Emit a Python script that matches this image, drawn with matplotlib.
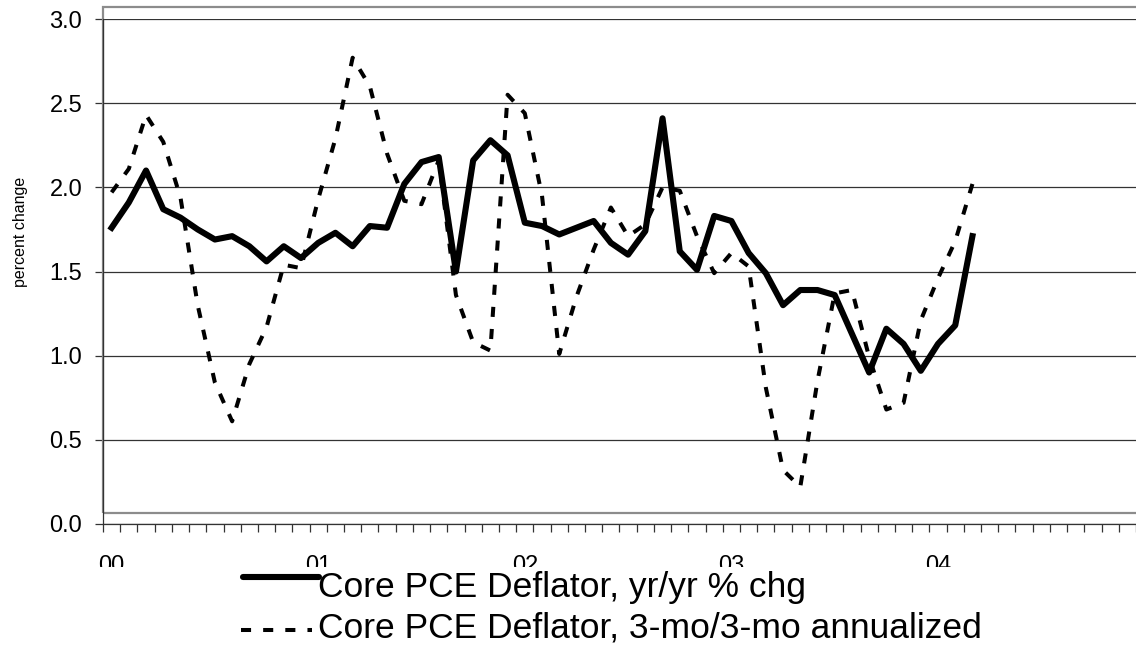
import numpy as np
import matplotlib
matplotlib.use("Agg")
import matplotlib.pyplot as plt
from matplotlib.patches import Rectangle
from matplotlib.lines import Line2D

plt.rcParams['font.family'] = ['Liberation Sans', 'DejaVu Sans']

# ---- data: monthly, Jan 2000 .. Mar 2004 ----
year_labels = ['00', '01', '02', '03', '04']
yoy_label = 'Core PCE Deflator, yr/yr % chg'
ann_label = 'Core PCE Deflator, 3-mo/3-mo annualized'

core_yoy = [1.76, 1.91, 2.10, 1.87, 1.82, 1.75, 1.69, 1.71, 1.65, 1.56,
            1.65, 1.58, 1.67, 1.73, 1.65, 1.77, 1.76, 2.02, 2.15, 2.18,
            1.50, 2.16, 2.28, 2.19, 1.79, 1.77, 1.72, 1.76, 1.80, 1.67,
            1.60, 1.74, 2.41, 1.62, 1.51, 1.83, 1.80, 1.61, 1.49, 1.30,
            1.39, 1.39, 1.36, 1.13, 0.90, 1.16, 1.07, 0.91, 1.07, 1.18,
            1.71]

core_3m = [1.97, 2.11, 2.43, 2.27, 1.94, 1.30, 0.84, 0.61, 0.95, 1.17,
           1.54, 1.52, 1.93, 2.29, 2.77, 2.60, 2.20, 1.92, 1.90, 2.16,
           1.36, 1.08, 1.03, 2.55, 2.44, 1.95, 1.01, 1.35, 1.63, 1.88,
           1.71, 1.78, 2.00, 1.98, 1.71, 1.49, 1.61, 1.53, 0.81, 0.32,
           0.22, 0.85, 1.37, 1.39, 0.99, 0.68, 0.72, 1.21, 1.46, 1.68,
           2.02]

W, H = 1136, 649
fig = plt.figure(figsize=(W / 100, H / 100), dpi=100)
ax = fig.add_axes([103 / W, 1 - 524 / H, (W - 103) / W, (524 - 19) / H])

x = np.arange(len(core_yoy))
ax.plot(x, core_3m, color='black', lw=2.9, dashes=(2.5, 3), dash_capstyle='butt', zorder=3)
ax.plot(x, core_yoy, color='black', lw=4.4, zorder=4)

ax.set_xlim(-0.5, 59.1)
ax.set_ylim(0, 3.0)

# grey plot-area frame (sits slightly inside the axis lines, like the original)
ax.add_patch(Rectangle((-0.5, 0.065), 70, 3.071 - 0.065, fill=False,
                       edgecolor='#8c8c8c', lw=1.6, clip_on=False, zorder=1))

ax.set_yticks(np.arange(0, 3.01, 0.5))
ax.set_yticklabels([f'{v:.1f}' for v in np.arange(0, 3.01, 0.5)], fontsize=17)
ax.yaxis.grid(True, color='#333333', lw=0.9)
ax.set_axisbelow(True)
ax.tick_params(axis='y', length=6, width=0.9, color='#333333', pad=9)

ax.set_xticks(np.arange(0, 49, 12))
ax.set_xticklabels(year_labels, fontsize=17)
ax.set_xticks(np.arange(-0.5, 60, 1), minor=True)
ax.tick_params(axis='x', which='major', length=0, pad=22)
ax.tick_params(axis='x', which='minor', length=6, width=0.9, color='#333333', direction='out')

for s in ['top', 'right']:
    ax.spines[s].set_visible(False)
for s in ['left', 'bottom']:
    ax.spines[s].set_color('#333333')
    ax.spines[s].set_linewidth(0.9)

fig.text(21 / W, 1 - 232 / H, 'percent change', rotation=90, fontsize=11.5,
         ha='center', va='center')

# legend box (white, overlapping the lower half of the year labels)
fig.add_artist(Rectangle((0, 0), 1, 1 - 567 / H, transform=fig.transFigure,
                         facecolor='white', edgecolor='none', zorder=5))
fig.add_artist(Line2D([243 / W, 319 / W], [1 - 577 / H] * 2, transform=fig.transFigure,
                      color='black', lw=4.4, solid_capstyle='round', zorder=6))
fig.add_artist(Line2D([241 / W, 312 / W], [1 - 630 / H] * 2, transform=fig.transFigure,
                      color='black', lw=2.9, dashes=(2.5, 3), dash_capstyle='butt', zorder=6))
fig.text(318 / W, 1 - 588 / H, yoy_label, fontsize=25.5, ha='left', va='center', zorder=7)
fig.text(318 / W, 1 - 628 / H, ann_label, fontsize=25.5, ha='left', va='center', zorder=7)

fig.savefig('out.png', dpi=100)
